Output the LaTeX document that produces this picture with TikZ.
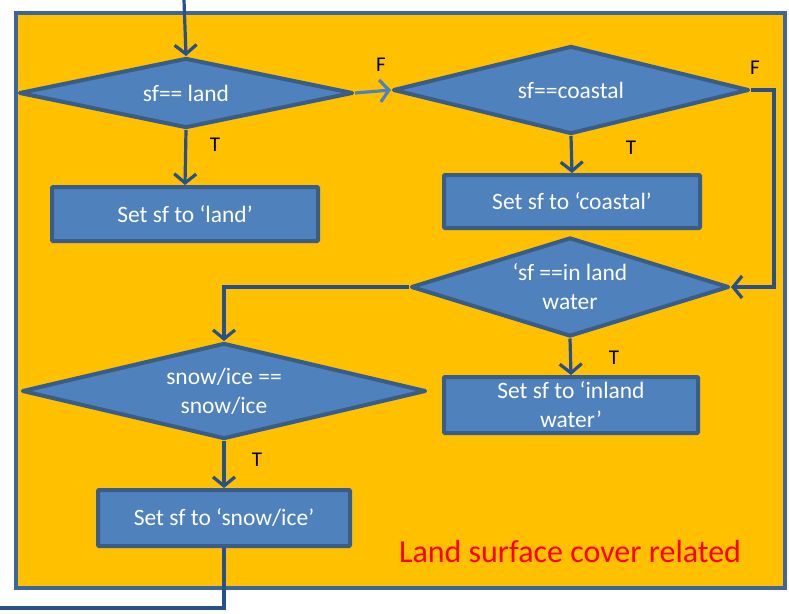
\documentclass[tikz,border=0pt]{standalone}
\usepackage{fontspec}
\setmainfont{Carlito}
\usetikzlibrary{shapes.geometric,arrows.meta}
\definecolor{panel}{HTML}{FFC000}
\definecolor{panelrule}{HTML}{3F6699}
\definecolor{shapefill}{HTML}{4F81BD}
\definecolor{shaperule}{HTML}{385D8A}
\definecolor{linkblue}{HTML}{27508D}
\definecolor{lightlink}{HTML}{4F81BD}
\begin{document}
\begin{tikzpicture}[x=1pt,y=-1pt,
  every node/.style={font=\fontsize{23.5}{29}\selectfont},
  test/.style={diamond,draw=shaperule,fill=shapefill,line width=4pt,
    line join=round,inner sep=0pt,text=white,align=center,aspect=4},
  action/.style={rectangle,draw=shaperule,fill=shapefill,line width=4pt,
    inner sep=0pt,text=white,align=center,rounded corners=1pt},
  link/.style={draw=linkblue,line width=3.2pt,
    -{Straight Barb[length=9pt,width=22pt,line width=3.2pt]}},
  plain/.style={draw=linkblue,line width=3.2pt},
  tag/.style={text=black,font=\fontsize{21}{24}\selectfont}]
  \useasboundingbox (0,0) rectangle (789,613);

  % panel
  \draw[panelrule,fill=panel,line width=4pt] (16,13) rectangle (785,588);

  % decisions
  \node[test,minimum width=334pt,minimum height=70pt] (d1) at (186,93) {sf== land};
  \node[test,minimum width=356pt,minimum height=88pt] (d2) at (571,90) {sf==coastal};
  \node[test,minimum width=318pt,minimum height=99pt] (d3) at (570,287) {‘sf ==in land\\water};
  \node[test,minimum width=404pt,minimum height=96pt] (d4) at (224,391) {snow/ice ==\\snow/ice};

  % actions
  \node[action,minimum width=266pt,minimum height=54pt] (b1) at (185,214) {Set sf to ‘land’};
  \node[action,minimum width=256pt,minimum height=53pt] (b2) at (572,201.5) {Set sf to ‘coastal’};
  \node[action,minimum width=254pt,minimum height=56pt] (b3) at (571,405) {Set sf to ‘inland\\water’};
  \node[action,minimum width=252pt,minimum height=56pt] (b4) at (224,518) {Set sf to ‘snow/ice’};

  % free ends
  \coordinate (entry) at (184,0);
  \coordinate (exit) at (0,608);

  % connectors
  \draw[link] (entry) -- (d1.north);
  \draw[link,draw=lightlink,
    -{Straight Barb[length=9pt,width=22pt,line width=3.2pt]}] (d1.east) -- (d2.west);
  \draw[link] (d1.south) -- (b1.north);
  \draw[link] (d2.south) -- (b2.north);
  \draw[link] (d2.east) -- ++(23,0) |- (d3.east);
  \draw[link] (d3.south) -- (b3.north);
  \draw[link] (d3.west) -| (d4.north);
  \draw[link] (d4.south) -- (b4.north);
  \draw[plain] (b4.south) |- (exit);

  % branch labels
  \node[tag] (f1) at (381,65) {F};
  \node[tag] (f2) at (755,68) {F};
  \node[tag] (t1) at (215,145) {T};
  \node[tag] (t2) at (631,148) {T};
  \node[tag] (t3) at (614,358) {T};
  \node[tag] (t4) at (257,460) {T};

  % caption
  \node[text=red,font=\fontsize{32}{36}\selectfont] (cap) at (570,551) {Land surface cover related};
\end{tikzpicture}
\end{document}
